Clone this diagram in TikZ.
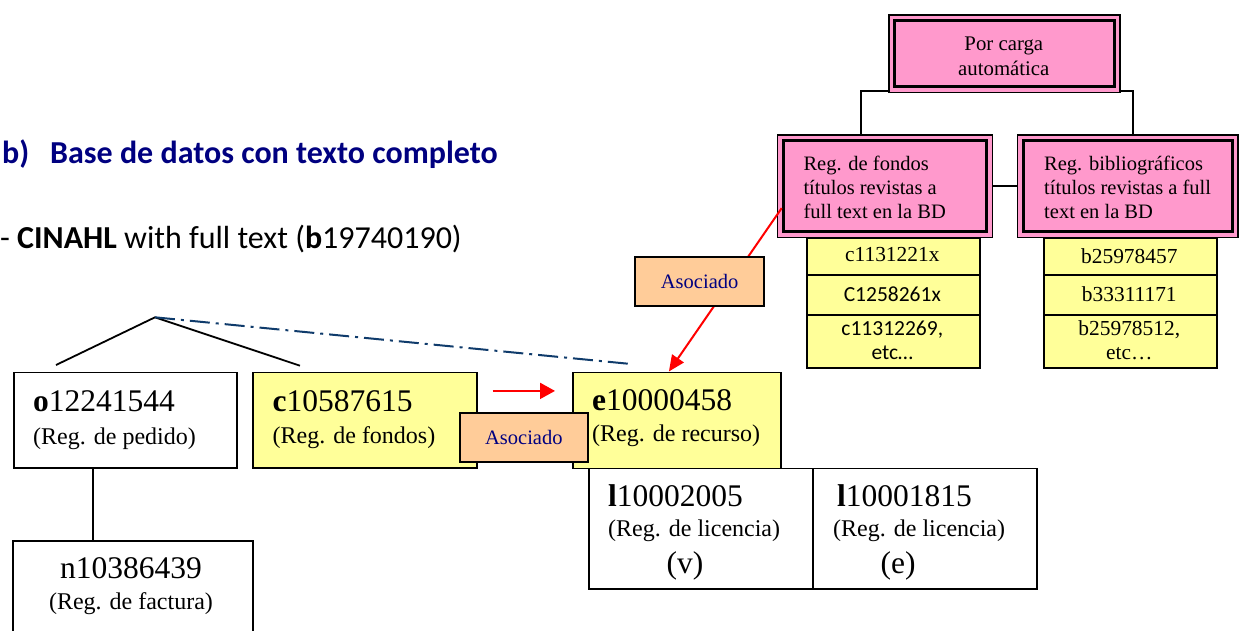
\documentclass[tikz,border=0pt]{standalone}
\usepackage{fontspec}
\setmainfont{Liberation Serif}
\newfontfamily\calfont{Carlito}
\usetikzlibrary{arrows.meta,backgrounds,calc}
\definecolor{pinkc}{HTML}{FF99CC}
\definecolor{yellowc}{HTML}{FFFF99}
\definecolor{peachc}{HTML}{FFCC99}
\definecolor{navyc}{HTML}{000080}
\definecolor{dashc}{HTML}{0F3B6B}
\newcommand\fbig{\fontsize{31.5}{36}\selectfont}
\newcommand\fmid{\fontsize{24}{28}\selectfont}
\newcommand\fsml{\fontsize{20.5}{24}\selectfont}
\newcommand\innerframe[1]{\draw[line width=3pt] ([xshift=6.5pt,yshift=-6.5pt]#1.north west) rectangle ([xshift=-6.5pt,yshift=6.5pt]#1.south east);}
\begin{document}
\begin{tikzpicture}[x=1pt,y=-1pt,
  box/.style={draw=black, line width=1.8pt, inner sep=0pt, anchor=north west},
  ybox/.style={box, fill=yellowc},
  pbox/.style={draw=black, line width=1.5pt, fill=pinkc, inner sep=0pt, anchor=north west},
  asoc/.style={draw=black, line width=1.8pt, fill=peachc, inner sep=0pt, minimum height=48.4pt, text=navyc, font=\fsml},
  t/.style={inner sep=0pt, anchor=base west},
  tc/.style={inner sep=0pt, anchor=base},
  conn/.style={draw=black, line width=1.8pt},
  redarrow/.style={draw=red, line width=2pt, -{Triangle[length=16pt,width=14pt]}}
]
\clip (0,0) rectangle (1240,630);

% title
\node[t, font=\calfont\bfseries\fontsize{32}{38}\selectfont, text=navyc] (tb) at (2,163.3) {b)};
\node[t, font=\calfont\bfseries\fontsize{32}{38}\selectfont, text=navyc] (tt) at (50,163.3) {Base de datos con texto completo};
\node[t, font=\calfont\fontsize{32}{38}\selectfont] (sub) at (0,248) {- \textbf{CINAHL} with full text (\textbf{b}19740190)};

% tree lines
\coordinate (apex) at (155,317.3);
\coordinate (ll) at (56,365);
\coordinate (rr) at (300,365.7);
\coordinate (dd) at (631,364);
\draw[line width=1.8pt] (ll) -- (apex) -- (rr);
\draw[dashc, line width=2pt, dash pattern=on 20pt off 6pt on 3pt off 6pt] (apex) -- (dd);

% left boxes
\node[box, minimum width=223.3pt, minimum height=95.5pt] (O) at (12.7,371.5) {};
\node[t, font=\fbig] (Ot1) at (33,411.7) {\textbf{o}12241544};
\node[t, font=\fmid] (Ot2) at (33,444) {(Reg. de pedido)};

\node[box, minimum width=240pt, minimum height=160pt] (N) at (11.7,540) {};
\node[tc, font=\fbig] (Nt1) at (131,578.3) {n10386439};
\node[tc, font=\fmid] (Nt2) at (131,609.3) {(Reg. de factura)};
\draw[conn] ([xshift=-32.65pt]O.south) -- ([xshift=-32.65pt]O.south |- N.north);

\node[ybox, minimum width=224pt, minimum height=95.5pt] (C) at (251.7,371.5) {};
\node[t, font=\fbig] (Ct1) at (272.5,411) {\textbf{c}10587615};
\node[t, font=\fmid] (Ct2) at (272.5,443) {(Reg. de fondos)};

\node[ybox, minimum width=208.3pt, minimum height=96pt] (E) at (571.7,371.5) {};
\node[t, font=\fbig] (Et1) at (592,410.7) {\textbf{e}10000458};
\node[t, font=\fmid] (Et2) at (592,441.7) {(Reg. de recurso)};

\node[box, minimum width=224pt, minimum height=120.2pt] (L1) at (587.7,467.5) {};
\node[t, font=\fbig] (L1t1) at (608,506.7) {\textbf{l}10002005};
\node[t, font=\fmid] (L1t2) at (608,536.7) {(Reg. de licencia)};
\node[tc, font=\fbig] (L1t3) at (685,573) {(v)};

\node[box, minimum width=224.3pt, minimum height=120.2pt] (L2) at (811.7,467.5) {};
\node[t, font=\fbig] (L2t1) at (837,506.7) {\textbf{l}10001815};
\node[t, font=\fmid] (L2t2) at (833,536.7) {(Reg. de licencia)};
\node[tc, font=\fbig] (L2t3) at (898,573) {(e)};

% right side: yellow tables
\node[ybox, minimum width=173.3pt, minimum height=37.3pt] (Y1) at (805.7,236.7) {};
\node[ybox, minimum width=173.3pt, minimum height=40pt] (Y2) at (805.7,274) {};
\node[ybox, minimum width=173.3pt, minimum height=53.3pt] (Y3) at (805.7,314) {};
\node[tc, font=\fontsize{21.4}{24}\selectfont] (Y1t) at (892.3,261.7) {c1131221x};
\node[tc, font=\calfont\fontsize{21.5}{24}\selectfont] (Y2t) at (892.3,301.7) {C1258261x};
\node[tc, font=\calfont\fontsize{21.5}{24}\selectfont] (Y3t) at (892.3,335) {c11312269,};
\node[tc, font=\calfont\fontsize{21.5}{24}\selectfont] (Y3u) at (892.3,359.3) {etc…};

\node[ybox, minimum width=173.3pt, minimum height=37.3pt] (Z1) at (1042.7,236.7) {};
\node[ybox, minimum width=173.3pt, minimum height=40pt] (Z2) at (1042.7,274) {};
\node[ybox, minimum width=173.3pt, minimum height=53.3pt] (Z3) at (1042.7,314) {};
\node[tc, font=\fontsize{21.4}{24}\selectfont] (Z1t) at (1129.3,263) {b25978457};
\node[tc, font=\fontsize{21.4}{24}\selectfont] (Z2t) at (1129.3,301.7) {b33311171};
\node[tc, font=\fontsize{21.4}{24}\selectfont] (Z3t) at (1129.3,335) {b25978512,};
\node[tc, font=\fontsize{21.4}{24}\selectfont] (Z3u) at (1129.3,359.3) {etc…};

% pink boxes
\node[pbox, minimum width=231pt, minimum height=77.7pt] (PT) at (888.3,14) {};
\innerframe{PT}
\node[tc, font=\fontsize{20.8}{25}\selectfont] (PTt1) at (1003.8,50) {Por carga};
\node[tc, font=\fontsize{20.8}{25}\selectfont] (PTt2) at (1003.8,75) {automática};

\node[pbox, minimum width=215pt, minimum height=102.7pt] (PL) at (776.7,134) {};
\innerframe{PL}
\node[t, font=\fsml] (PLt1) at (803.3,170) {Reg. de fondos};
\node[t, font=\fsml] (PLt2) at (803.3,194) {títulos revistas a};
\node[t, font=\fsml] (PLt3) at (803.3,218.3) {full text en la BD};

\node[pbox, minimum width=220.3pt, minimum height=102.7pt] (PR) at (1016.7,134) {};
\innerframe{PR}
\node[t, font=\fsml] (PRt1) at (1044,170) {Reg. bibliográficos};
\node[t, font=\fsml] (PRt2) at (1044,194) {títulos revistas a full};
\node[t, font=\fsml] (PRt3) at (1044,218.3) {text en la BD};

\begin{pgfonlayer}{background}
\draw[conn] ([xshift=-24.2pt]PL.north) |- ([yshift=2pt]PT.south) -| ([xshift=5.45pt]PR.north);
\draw[conn] (PL.east) -- (PR.west);
\end{pgfonlayer}

% red arrows
\draw[redarrow] ([xshift=5pt,yshift=-22pt]PL.west) -- ([xshift=-7.85pt]E.north);
\draw[redarrow, -{Triangle[length=15pt,width=16pt]}] ([xshift=15pt,yshift=29.25pt]C.east) -- ([xshift=-16.7pt,yshift=29.5pt]E.west);

% Asociado labels
\node[asoc, minimum width=129.3pt] (A1) at (699.65,281.5) {Asociado};
\node[asoc, minimum width=127.7pt] (A2) at (523.85,437.5) {Asociado};
\end{tikzpicture}
\end{document}
